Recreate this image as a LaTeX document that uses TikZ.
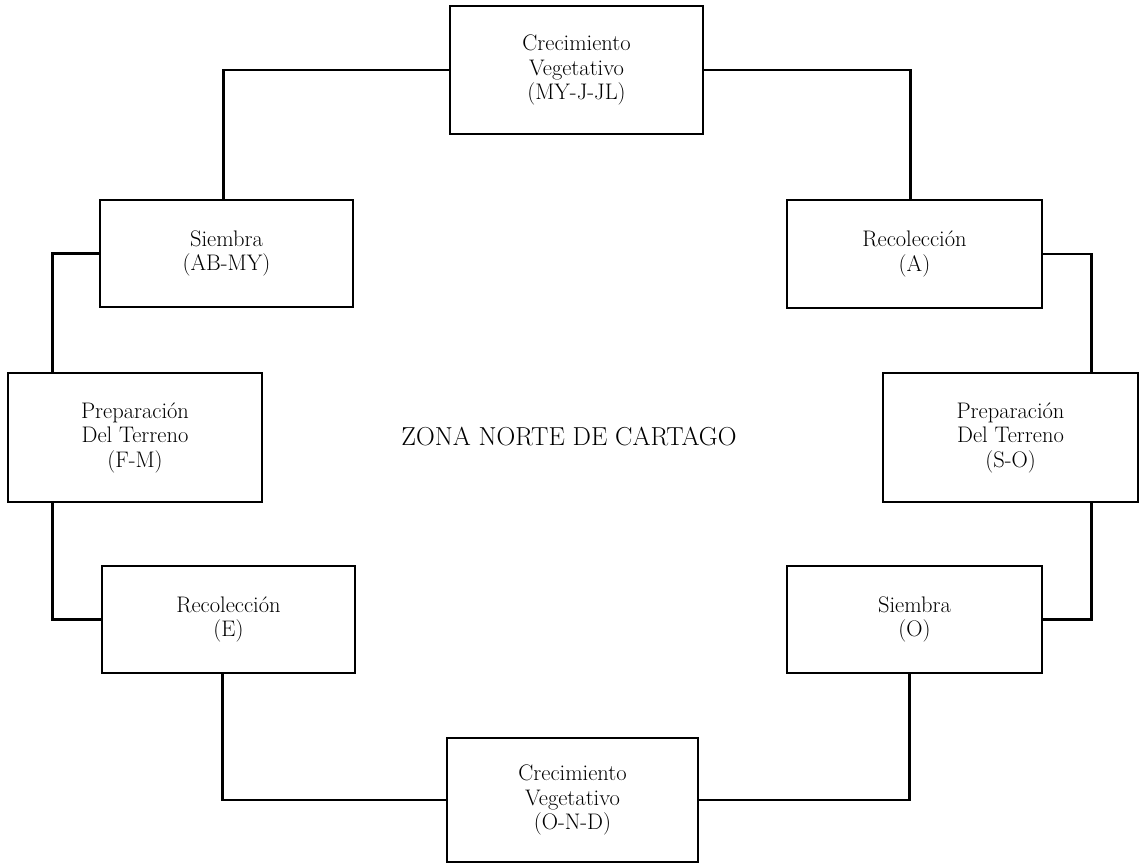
\documentclass[tikz,border=0pt]{standalone}
\usepackage{tikz}

\begin{document}
\begin{tikzpicture}[x=1pt,y=-1pt,line width=2.8pt,
  etapa/.style={shape=rectangle,draw=black,align=center,inner sep=0pt,
    font=\fontsize{22.5}{24.5}\selectfont}]
\useasboundingbox (0,0) rectangle (1144,866);

\node[] (zona) at (569,437) {\fontsize{26}{30}\selectfont ZONA NORTE DE CARTAGO};

\node[etapa,minimum width=253pt,minimum height=128pt] (cv1) at (576.5,70) {Crecimiento\\Vegetativo\\(MY-J-JL)};
\node[etapa,minimum width=253pt,minimum height=107pt] (s1) at (226.5,253.5) {Siembra\\(AB-MY)};
\node[etapa,minimum width=255pt,minimum height=108pt] (r1) at (914.5,254) {Recolección\\(A)};
\node[etapa,minimum width=254pt,minimum height=129pt] (p1) at (135,437.5) {Preparación\\Del Terreno\\(F-M)};
\node[etapa,minimum width=255pt,minimum height=129pt] (p2) at (1010.5,437.5) {Preparación\\Del Terreno\\(S-O)};
\node[etapa,minimum width=253pt,minimum height=107pt] (r2) at (228.5,619.5) {Recolección\\(E)};
\node[etapa,minimum width=255pt,minimum height=107pt] (s2) at (914.5,619.5) {Siembra\\(O)};
\node[etapa,minimum width=251pt,minimum height=124pt] (cv2) at (572.5,800) {Crecimiento\\Vegetativo\\(O-N-D)};

\draw (cv1.west) -| ([xshift=-3pt]s1.north);
\draw (cv1.east) -| ([xshift=-4pt]r1.north);
\draw (s1.west) -| ([xshift=46pt]p1.north west);
\draw (r1.east) -| ([xshift=-48pt]p2.north east);
\draw ([xshift=46pt]p1.south west) |- (r2.west);
\draw ([xshift=-48pt]p2.south east) |- (s2.east);
\draw ([xshift=-6pt]r2.south) |- (cv2.west);
\draw ([xshift=-5pt]s2.south) |- (cv2.east);

\end{tikzpicture}
\end{document}
